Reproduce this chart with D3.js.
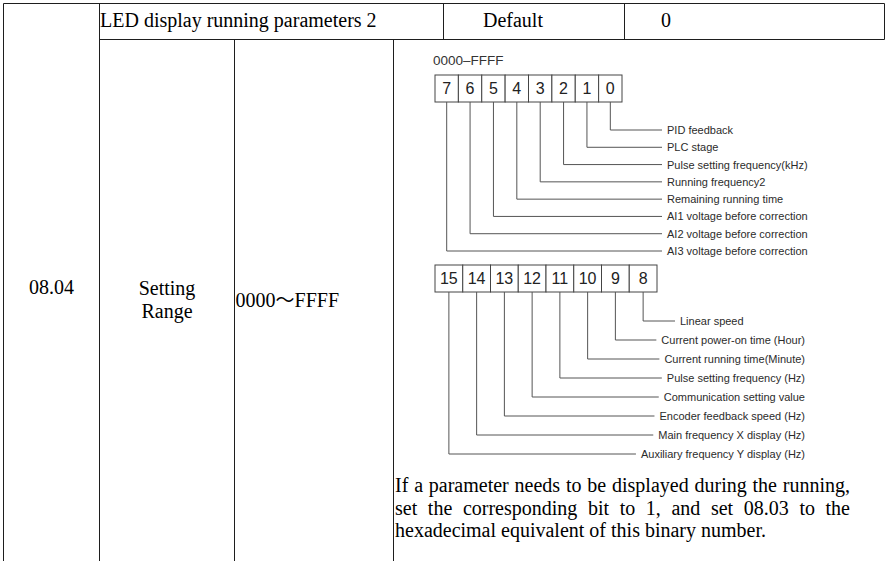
<!DOCTYPE html>
<html><head><meta charset="utf-8">
<script src="https://cdn.jsdelivr.net/npm/d3@7/dist/d3.min.js"></script>
<style>html,body{margin:0;padding:0;background:#fff;}svg{display:block}</style>
</head><body>
<svg id="c" width="893" height="561"></svg>
<script>
// ---------- data ----------
const headerCells = ["LED display running parameters 2", "Default", "0"];
const paramCode = "08.04";
const paramName = ["Setting", "Range"];
const paramRange = ["0000", "\uFF5E", "FFFF"];
const diagramRange = "0000\u2013FFFF";
const lowByteBits = ["7", "6", "5", "4", "3", "2", "1", "0"];
const highByteBits = ["15", "14", "13", "12", "11", "10", "9", "8"];
// index = bit number (0..7)
const lowByteLabels = [
  "PID feedback",
  "PLC stage",
  "Pulse setting frequency(kHz)",
  "Running frequency2",
  "Remaining running time",
  "AI1 voltage before correction",
  "AI2 voltage before correction",
  "AI3 voltage before correction"
];
// index = bit number - 8 (8..15)
const highByteLabels = [
  "Linear speed",
  "Current power-on time (Hour)",
  "Current running time(Minute)",
  "Pulse setting frequency (Hz)",
  "Communication setting value",
  "Encoder feedback speed (Hz)",
  "Main frequency X display (Hz)",
  "Auxiliary frequency Y display (Hz)"
];
const noteLines = [
  "If a parameter needs to be displayed during the running,",
  "set the corresponding bit to 1, and set 08.03 to the",
  "hexadecimal equivalent of this binary number."
];

// ---------- layout ----------
const svg = d3.select("#c");
const serif = "'Liberation Serif','Times New Roman',Times,serif";
const sans = "'Liberation Sans',Arial,Helvetica,sans-serif";
const G = {x0: 3.5, x1: 99.5, x2: 234.5, x3: 393.5, xDef: 443.5, xVal: 624.5, xR: 884.5,
           yTop: 3.5, yRow: 39.5, yBot: 561};

// table grid
const gridLines = [
  [G.x0, G.yTop, G.xR, G.yTop],
  [G.x1, G.yRow, G.xR, G.yRow],
  [G.x0, G.yTop, G.x0, G.yBot],
  [G.x1, G.yTop, G.x1, G.yBot],
  [G.x2, G.yRow, G.x2, G.yBot],
  [G.x3, G.yRow, G.x3, G.yBot],
  [G.xDef, G.yTop, G.xDef, G.yRow],
  [G.xVal, G.yTop, G.xVal, G.yRow],
  [G.xR, G.yTop, G.xR, G.yRow]
];
svg.append("g").selectAll("line").data(gridLines).join("line")
  .attr("x1", d => d[0]).attr("y1", d => d[1]).attr("x2", d => d[2]).attr("y2", d => d[3])
  .attr("stroke", "#1e1e1e").attr("stroke-width", 1);

// header row
const headerX = [100, 483, 661];
svg.append("g").selectAll("text").data(headerCells).join("text")
  .attr("x", (d, i) => headerX[i]).attr("y", 27)
  .attr("font-family", serif).attr("font-size", 20).attr("fill", "#000")
  .text(d => d);

// parameter row
const rowText = svg.append("g").attr("font-family", serif).attr("font-size", 20).attr("fill", "#000");
rowText.append("text").attr("x", (G.x0 + G.x1) / 2).attr("y", 294).attr("text-anchor", "middle").text(paramCode);
rowText.selectAll("text.name").data(paramName).join("text").attr("class", "name")
  .attr("x", (G.x1 + G.x2) / 2).attr("y", (d, i) => 295 + i * 23).attr("text-anchor", "middle").text(d => d);
const rng = rowText.append("text").attr("x", G.x2 + 1).attr("y", 307);
rng.selectAll("tspan").data(paramRange).join("tspan")
  .attr("font-family", (d, i) => i === 1 ? "'Noto Sans CJK SC','Noto Sans CJK JP',sans-serif" : serif)
  .attr("font-size", (d, i) => i === 1 ? 19 : 20)
  .text(d => d);

// ---------- bit diagram ----------
const dg = svg.append("g").attr("font-family", sans).attr("fill", "#2b2b2b");
dg.append("text").attr("x", 433).attr("y", 65).attr("font-size", 13.5).attr("fill", "#333").text(diagramRange);

function bitBlock(bits, labels, bitOffset, xr, yBox, hBox, yr, labelPlace) {
  const xs = d3.scaleBand().domain(bits).range(xr);
  const ys = d3.scalePoint().domain(labels).range(yr);
  const g = dg.append("g");
  g.selectAll("rect").data(bits).join("rect")
    .attr("x", d => xs(d)).attr("y", yBox).attr("width", xs.bandwidth()).attr("height", hBox)
    .attr("fill", "#fff").attr("stroke", "#444").attr("stroke-width", 1);
  g.selectAll("text.bit").data(bits).join("text").attr("class", "bit")
    .attr("x", d => xs(d) + xs.bandwidth() / 2).attr("y", yBox + hBox / 2 + 5.8)
    .attr("text-anchor", "middle").attr("font-size", 16).attr("fill", "#222").text(d => d);
  const lab = g.selectAll("text.lab").data(labels).join("text").attr("class", "lab")
    .attr("font-size", 11).attr("fill", "#2b2b2b")
    .attr("y", d => ys(d) + 4)
    .each(function (d, i) {
      const p = labelPlace(i);
      d3.select(this).attr("x", p.x).attr("text-anchor", p.anchor);
    })
    .text(d => d);
  lab.each(function (d, i) {
    const bb = this.getBBox();
    const cx = xs(String(i + bitOffset)) + xs.bandwidth() / 2;
    const y = ys(d);
    g.append("path")
      .attr("d", `M${cx},${yBox + hBox}V${y}H${bb.x - 5}`)
      .attr("fill", "none").attr("stroke", "#555").attr("stroke-width", 1);
  });
}
bitBlock(lowByteBits, lowByteLabels, 0, [435, 622], 75, 27, [130, 251],
  i => ({x: 667, anchor: "start"}));
bitBlock(highByteBits, highByteLabels, 8, [435, 657], 265, 27, [321, 454],
  i => i === 0 ? {x: 680, anchor: "start"} : {x: 805, anchor: "end"});

// ---------- note ----------
const noteX = 395, noteRight = 850;
const note = svg.append("g").attr("font-family", serif).attr("font-size", 20).attr("fill", "#000");
note.selectAll("text").data(noteLines).join("text")
  .attr("x", noteX).attr("y", (d, i) => 492 + i * 22.5)
  .text(d => d)
  .each(function (d, i) {
    if (i < noteLines.length - 1) {
      const w = this.getComputedTextLength();
      const gaps = (d.match(/ /g) || []).length;
      const extra = (noteRight - noteX - w) / gaps;
      if (extra > 0) d3.select(this).style("word-spacing", extra + "px");
    }
  });
</script>
</body></html>
